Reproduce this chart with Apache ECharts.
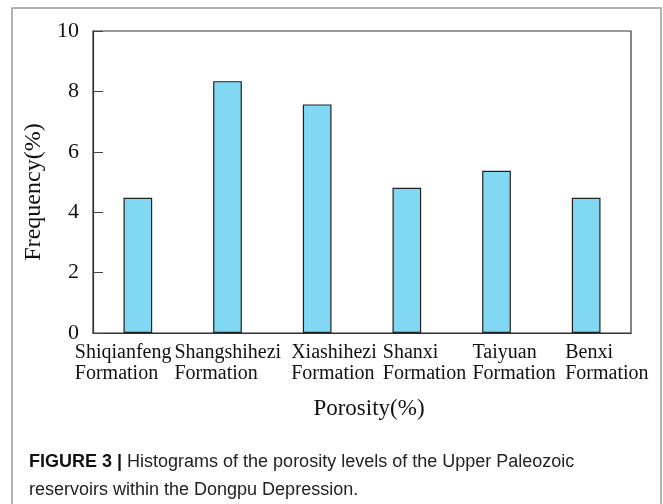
<!DOCTYPE html>
<html>
<head>
<meta charset="utf-8">
<script src="https://cdn.jsdelivr.net/npm/echarts@6/dist/echarts.min.js"></script>
<style>
  html, body { margin: 0; padding: 0; background: #fff; }
  #chart { width: 663px; height: 504px; }
</style>
</head>
<body>
<div id="chart"></div>
<script>
// formations on the x axis
const categories = [
  'Shiqianfeng',
  'Shangshihezi',
  'Xiashihezi',
  'Shanxi',
  'Taiyuan',
  'Benxi'
];
// frequency (%)
const frequency = [4.48, 8.34, 7.57, 4.81, 5.37, 4.48];
const yTicks = [0, 2, 4, 6, 8, 10];

const serif = 'Liberation Serif';
// labels in the source are left aligned, each starting a bit left of its bar
const labelShift = [63, 53, 26, 24, 24, 21];
const labelRich = {};
labelShift.forEach(function (s, i) {
  labelRich['s' + i] = { width: s * 2, align: 'left', fontFamily: serif, fontSize: 20, lineHeight: 21, color: '#111' };
});

const chart = echarts.init(document.getElementById('chart'));

const option = {
  animation: false,
  backgroundColor: '#fff',
  title: {
    left: 29,
    top: 448,
    padding: 0,
    text: '{b|FIGURE 3 |} Histograms of the porosity levels of the Upper Paleozoic\nreservoirs within the Dongpu Depression.',
    textStyle: {
      fontFamily: 'Liberation Sans',
      fontSize: 18,
      fontWeight: 'normal',
      color: '#222',
      lineHeight: 28,
      rich: {
        b: { fontFamily: 'Liberation Sans', fontSize: 18, fontWeight: 'bold', color: '#111', lineHeight: 28 }
      }
    }
  },
  graphic: [
    {
      type: 'rect',
      shape: { x: 12, y: 8, width: 649, height: 520 },
      style: { fill: 'none', stroke: '#9a9a9a', lineWidth: 1.5 },
      silent: true
    }
  ],
  grid: {
    left: 93,
    right: 32,
    top: 31,
    bottom: 171,
    show: true,
    borderColor: '#333',
    borderWidth: 1.2
  },
  xAxis: {
    type: 'category',
    data: categories,
    name: 'Porosity(%)',
    nameLocation: 'middle',
    nameGap: 64,
    nameTextStyle: { fontFamily: serif, fontSize: 23, color: '#111', padding: [0, 0, 0, 14] },
    axisLine: { lineStyle: { color: '#333', width: 1.2 } },
    axisTick: { show: false },
    axisLabel: {
      interval: 0,
      hideOverlap: false,
      margin: 9,
      fontFamily: serif,
      fontSize: 20,
      lineHeight: 21,
      color: '#111',
      formatter: function (value, idx) {
        return '{s' + idx + '|' + value + '}\n{s' + idx + '|Formation}';
      },
      rich: labelRich
    }
  },
  yAxis: {
    type: 'value',
    min: yTicks[0],
    max: yTicks[yTicks.length - 1],
    interval: 2,
    name: 'Frequency(%)',
    nameLocation: 'middle',
    nameGap: 45,
    nameTextStyle: { fontFamily: serif, fontSize: 24, color: '#111', padding: [0, 20, 0, 0] },
    axisLine: { show: true, lineStyle: { color: '#333', width: 1.2 } },
    axisTick: { show: true, inside: true, length: 10, lineStyle: { color: '#444' } },
    splitLine: { show: false },
    axisLabel: { margin: 14, fontFamily: serif, fontSize: 22, color: '#111' }
  },
  series: [
    {
      type: 'bar',
      data: frequency,
      barWidth: '32%',
      itemStyle: { color: '#80d8f3', borderColor: '#222', borderWidth: 1.2 }
    }
  ]
};
chart.setOption(option);
</script>
</body>
</html>
